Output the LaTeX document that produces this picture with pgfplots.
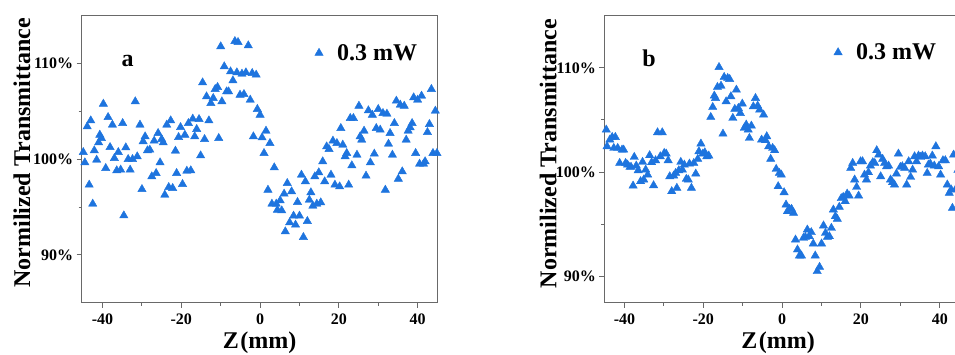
\documentclass[border=0pt]{standalone}
\usepackage{fontspec}
\setmainfont{Liberation Serif}
\usepackage{pgfplots}
\pgfplotsset{compat=1.18}
\usepackage{pgfplotstable}
\definecolor{ptblue}{RGB}{30,116,222}
\definecolor{axgray}{RGB}{105,105,105}

\pgfplotstableread{
z T
-44.9 100.73
-44.5 99.65
-43.9 103.41
-43.4 97.32
-43.0 104.04
-42.5 95.33
-42.1 100.91
-41.5 99.93
-41.0 101.74
-40.7 102.54
-40.3 102.20
-39.8 105.78
-39.2 99.06
-38.6 104.39
-38.1 101.25
-37.5 103.59
-37.0 100.10
-36.4 98.82
-36.0 100.73
-35.4 98.89
-34.9 103.76
-34.6 94.11
-34.1 101.22
-33.5 100.00
-33.0 98.89
-32.4 100.00
-31.7 106.03
-31.2 100.28
-30.5 103.59
-30.0 96.86
-29.7 101.85
-29.2 102.37
-28.6 100.91
-28.0 100.98
-27.5 98.19
-26.9 101.92
-26.4 98.54
-25.9 102.72
-25.4 99.65
-25.0 102.09
-24.6 101.74
-24.2 96.27
-23.7 103.59
-23.2 97.07
-22.7 104.04
-22.2 96.97
-21.5 100.87
-21.2 98.54
-20.7 102.30
-20.2 103.34
-19.7 97.39
-19.1 102.54
-18.6 98.78
-18.2 103.76
-17.6 98.82
-17.1 104.22
-16.6 102.37
-16.1 103.14
-15.5 104.18
-15.1 100.38
-14.6 108.01
-14.1 102.09
-13.6 106.55
-13.0 104.04
-12.5 105.85
-11.9 106.38
-11.4 107.32
-10.8 107.53
-10.5 102.20
-10.0 111.78
-9.7 106.03
-9.1 109.69
-8.5 107.07
-8.0 107.07
-7.5 109.16
-6.9 108.22
-6.4 112.33
-5.9 109.06
-5.6 112.23
-5.1 106.72
-4.6 108.92
-4.1 106.79
-3.6 109.06
-3.0 111.88
-2.5 106.20
-2.0 108.99
-1.7 102.37
-1.0 108.82
-0.7 105.23
0.0 104.63
0.5 102.26
1.0 100.63
1.5 102.96
2.0 96.79
2.5 101.67
3.0 95.33
3.6 99.13
4.1 95.33
4.4 94.70
5.1 95.68
5.5 94.63
6.1 96.38
6.4 92.44
6.9 97.49
7.5 93.38
8.0 96.62
8.5 94.08
9.0 93.14
9.5 95.51
10.0 94.08
10.5 98.36
11.0 91.85
11.5 97.67
12.0 93.52
12.5 95.75
12.9 96.52
13.4 95.12
13.9 98.19
14.4 95.33
14.9 98.61
15.4 95.47
15.9 99.76
16.4 97.67
16.9 101.32
17.5 101.05
18.0 98.36
18.5 101.92
19.0 97.32
19.5 101.67
20.2 97.14
20.5 103.24
21.0 101.50
21.6 100.28
22.0 100.63
22.5 97.32
22.9 104.29
23.3 99.34
23.7 104.29
24.6 100.45
25.1 105.57
25.4 102.37
25.8 102.02
26.4 102.96
26.9 98.26
27.5 105.09
28.0 99.65
28.5 104.63
29.0 100.56
29.5 103.24
30.0 105.23
30.5 103.07
31.2 104.81
31.8 96.79
32.2 104.74
32.6 101.60
33.0 102.72
33.6 100.45
34.1 103.76
34.6 106.10
35.1 97.94
35.6 105.68
36.1 98.71
36.6 105.57
37.1 102.02
37.6 102.96
38.1 103.31
38.6 103.76
39.0 106.45
39.5 100.63
40.0 106.20
40.5 99.51
41.0 106.62
41.5 99.51
41.9 99.76
42.5 102.82
43.0 103.66
43.5 107.32
43.9 100.63
44.5 105.05
44.9 100.63
}\dataA

\pgfplotstableread{
z T
-44.6 104.06
-44.4 102.46
-43.7 103.10
-43.1 103.35
-42.7 102.30
-42.3 103.35
-41.7 102.30
-41.2 100.86
-40.6 102.14
-40.2 102.14
-39.7 100.86
-39.2 100.70
-38.6 100.48
-38.3 100.48
-37.8 98.69
-37.5 101.44
-37.0 100.61
-36.5 100.16
-35.9 99.11
-35.4 100.96
-35.1 99.27
-34.6 100.22
-34.1 99.74
-33.6 101.60
-33.1 100.93
-32.6 98.72
-32.1 101.12
-31.6 103.80
-30.9 101.50
-30.4 103.80
-29.9 101.82
-29.4 101.76
-28.9 101.12
-28.5 99.58
-28.0 98.15
-27.5 99.65
-27.0 99.90
-26.7 98.47
-26.2 100.16
-25.7 100.96
-25.3 100.22
-24.8 100.70
-24.3 99.33
-23.8 99.27
-23.5 100.80
-23.0 98.47
-22.4 100.86
-21.9 99.84
-21.4 101.25
-21.1 101.98
-20.6 102.72
-20.1 101.76
-19.6 101.88
-19.1 101.50
-18.6 101.57
-18.1 105.27
-17.6 106.23
-17.2 107.32
-16.9 107.09
-16.4 108.15
-16.0 110.06
-15.5 108.27
-15.0 103.67
-14.7 109.11
-14.2 106.77
-13.8 109.01
-13.3 108.91
-13.0 107.25
-12.5 105.18
-12.0 106.04
-11.6 107.89
-11.1 106.13
-10.6 105.65
-10.1 106.55
-9.6 104.22
-9.1 104.54
-8.6 104.06
-8.3 103.26
-7.8 104.44
-7.3 106.29
-6.75 107.09
-6.2 106.36
-5.7 105.97
-5.2 103.10
-4.7 105.50
-4.2 103.04
-3.9 103.42
-3.4 102.46
-2.9 101.25
-2.4 102.30
-1.9 102.08
-1.5 100.29
-1.0 98.63
-0.7 99.90
-0.2 99.74
0.5 98.05
1.0 96.87
1.35 96.23
1.9 96.45
2.4 96.45
2.9 96.07
3.4 93.51
3.9 92.56
4.4 91.98
4.9 91.98
5.4 93.67
5.9 93.77
6.4 94.47
6.9 93.83
7.4 94.22
7.9 93.13
8.4 91.98
8.9 90.48
9.5 90.89
10.0 93.13
10.5 94.86
11.0 94.15
11.5 93.77
12.0 93.83
12.5 94.63
13.0 96.39
13.5 95.75
14.0 95.50
14.5 96.65
15.0 97.48
15.5 97.60
16.0 97.19
16.5 97.92
17.0 97.73
17.4 100.38
17.9 100.86
18.4 99.27
18.9 98.56
19.4 97.73
19.9 101.02
20.4 101.02
20.9 99.74
21.4 99.27
21.9 99.97
22.4 100.61
23.0 100.93
23.5 100.86
24.0 102.08
24.5 101.66
25.0 99.58
25.5 101.25
26.0 100.86
26.5 100.54
27.0 100.61
27.5 99.27
28.0 99.01
28.5 98.79
29.0 99.84
29.5 101.76
30.0 100.48
30.5 100.54
31.1 100.38
31.6 98.79
32.1 101.02
32.6 99.52
33.1 100.22
33.6 101.50
34.1 101.02
34.6 101.57
35.1 101.44
35.6 101.57
36.3 101.50
36.8 99.90
37.1 100.70
37.6 100.80
38.1 101.57
38.6 100.61
39.0 102.46
39.7 100.54
40.2 99.74
40.8 101.12
41.4 101.12
41.9 98.79
42.4 97.99
42.9 98.31
43.2 96.55
43.5 101.66
44.1 98.40
44.6 100.20
}\dataB

\pgfplotsset{
  panel/.style={
    scale only axis, width=356pt, height=287pt,
    axis line style={axgray, line width=1.2pt},
    tick style={axgray, line width=1pt},
    major tick length=5pt, minor tick length=3pt,
    tick align=outside, tick pos=left,
    xtick={-40,-20,0,20,40}, xticklabels={-40,-20,0,20,40},
    minor xtick={-30,-10,10,30},
    ytick={90,100,110}, yticklabels={90\%,100\%,110\%},
    minor ytick={95,105},
    ticklabel style={font=\fontsize{16}{18}\selectfont\bfseries},
    xticklabel style={yshift=-3pt},
    label style={font=\fontsize{24}{28}\selectfont\bfseries},
    xlabel={Z\kern1.5pt(mm)}, ylabel={Normilized Transmittance},
    legend style={draw=none, fill=none, anchor=west,
      font=\fontsize{24}{28}\selectfont\bfseries,
      /tikz/every odd column/.append style={column sep=12pt}},
  },
  pts/.style={only marks, mark=triangle*, mark size=4.8pt,
    color=ptblue, mark options={draw=ptblue, fill=ptblue}},
}

\begin{document}
\begin{tikzpicture}
\useasboundingbox (0pt,0pt) rectangle (955pt,354pt);
\clip (0pt,0pt) rectangle (955pt,354pt);
\begin{axis}[panel, at={(81.7pt,51.3pt)}, anchor=south west,
  xmin=-45.3, xmax=45.1, ymin=85, ymax=115,
  ylabel style={at={(axis description cs:-0.168,0.523)}, anchor=center},
  xlabel style={at={(axis description cs:0.5,-0.158)}, anchor=base},
  legend style={at={(axis description cs:0.646,0.870)}}]
\addplot[pts] table[x=z,y=T]{\dataA};
\addlegendentry{0.3 mW}
\node[font=\fontsize{24}{28}\selectfont\bfseries] at (axis description cs:0.129,0.842) {a};
\end{axis}
\begin{axis}[panel, at={(604.3pt,51.3pt)}, anchor=south west,
  xmin=-45.1, xmax=45.2, ymin=87.47, ymax=115,
  ylabel style={at={(axis description cs:-0.158,0.52)}, anchor=center},
  xlabel style={at={(axis description cs:0.488,-0.158)}, anchor=base},
  legend style={at={(axis description cs:0.636,0.872)}}]
\addplot[pts] table[x=z,y=T]{\dataB};
\addlegendentry{0.3 mW}
\node[font=\fontsize{24}{28}\selectfont\bfseries] at (axis description cs:0.126,0.853) {b};
\end{axis}
\end{tikzpicture}
\end{document}
